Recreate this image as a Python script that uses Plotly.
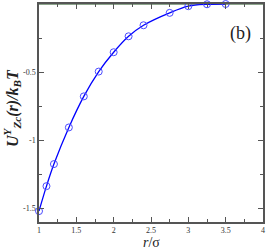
import plotly.graph_objects as go

r_vals = [1.0, 1.1, 1.2, 1.4, 1.6, 1.8, 2.0, 2.2, 2.4, 2.75, 3.0, 3.25, 3.5]
u_vals = [-1.52, -1.337, -1.175, -0.906, -0.678, -0.496, -0.354, -0.237, -0.156, -0.065, -0.016, -0.002, 0.0]
zero_x = [1.0, 4.0]
zero_y = [0.0, 0.0]

x_ticks = [1, 1.5, 2, 2.5, 3, 3.5, 4]
x_labels = ["1", "1.5", "2", "2.5", "3", "3.5", "4"]
y_ticks = [0, -0.5, -1, -1.5]
y_labels = ["0", "-0.5", "-1", "-1.5"]

fig = go.Figure()
fig.add_trace(go.Scatter(x=zero_x, y=zero_y, mode="lines",
                         line=dict(color="#1a4d1a", width=1.2), showlegend=False))
fig.add_trace(go.Scatter(x=r_vals, y=u_vals, mode="lines+markers",
                         line=dict(color="#0000ff", width=1.3, shape="spline"),
                         marker=dict(symbol="circle-open", size=7, color="#4a4aff",
                                     line=dict(width=1)),
                         showlegend=False, cliponaxis=False))

axis_common = dict(showgrid=False, zeroline=False, showline=True, linecolor="#555555",
                   linewidth=1.5, mirror="ticks", ticks="inside", ticklen=5,
                   tickcolor="#555555", tickwidth=1, automargin=False,
                   tickfont=dict(family="Liberation Serif", size=8, color="#333333"))

fig.update_xaxes(range=[1, 4], tickvals=x_ticks, ticktext=x_labels,
                 minor=dict(ticks="inside", ticklen=3, dtick=0.25, tickcolor="#555555"),
                 **axis_common)
fig.update_yaxes(range=[-1.6, 0], tickvals=y_ticks, ticktext=y_labels,
                 minor=dict(ticks="inside", ticklen=3, dtick=0.25, tickcolor="#555555"),
                 **axis_common)

fig.add_annotation(x=0.5, y=0, xref="paper", yref="paper", text="<i>r</i>/σ",
                   showarrow=False, xanchor="center", yanchor="middle", yshift=-20,
                   font=dict(family="Liberation Serif", size=14, color="#222222"))

fig.add_annotation(x=0, y=0.5, xref="paper", yref="paper",
                   text="<b><i>U</i><sup><i>Y</i></sup><sub><i>Zc</i></sub><i>(r)/k</i><sub><i>B</i></sub><i>T</i></b>",
                   textangle=-90, showarrow=False, xanchor="center", yanchor="middle",
                   xshift=-27, yshift=5,
                   font=dict(family="Liberation Serif", size=16, color="#222222"))

fig.add_annotation(x=0.955, y=0.92, xref="paper", yref="paper", text="(b)",
                   showarrow=False, xanchor="right", yanchor="top",
                   font=dict(family="Liberation Serif", size=18, color="#222222"))

fig.update_layout(width=266, height=249, margin=dict(l=39, r=3, t=4, b=27),
                  plot_bgcolor="white", paper_bgcolor="white")

fig.write_html("out.html", config={"displayModeBar": False},
               post_script="document.body.style.margin='0';document.body.style.overflow='hidden';")
